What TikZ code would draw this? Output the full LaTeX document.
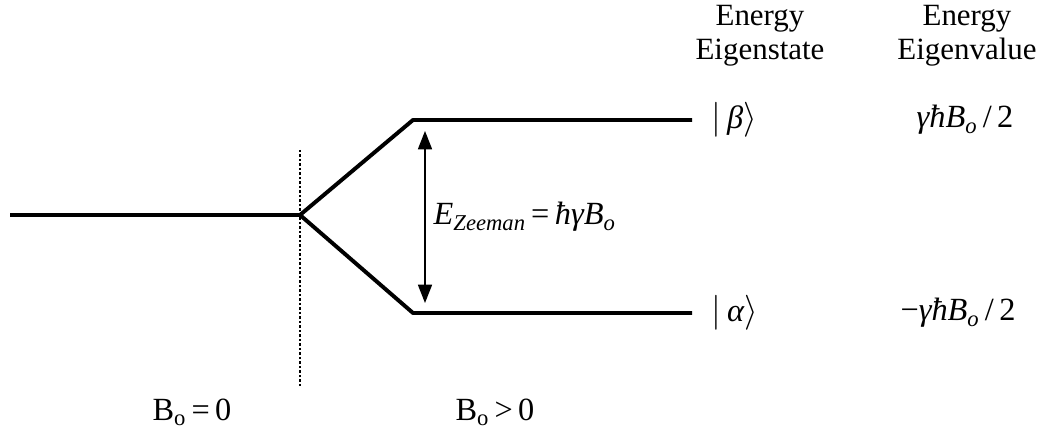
\documentclass[tikz,border=0pt]{standalone}
\usepackage{fontspec}
\setmainfont{Liberation Serif}
\usepackage{tikz}
\usetikzlibrary{arrows.meta,positioning,calc}
\newcommand{\mi}[1]{{\itshape #1}}
\tikzset{
    level/.style={line width=2.8pt, line join=round},
    lbl/.style={font=\fontsize{23}{26}\selectfont, align=center, inner sep=1pt},
    headlbl/.style={font=\fontsize{22}{24}\selectfont, align=center, inner sep=1pt, anchor=north},
    field/.style={dash pattern=on 1.6pt off 1.6pt, line width=1.8pt},
}
\begin{document}
\begin{tikzpicture}[
    x=0.025cm, y=-0.025cm,
    arr/.style={{Triangle[length=13pt,width=10pt]}-{Triangle[length=13pt,width=10pt]}, line width=0.9pt}
]
    \useasboundingbox (0,0) rectangle (1048,438);
    \coordinate (start) at (10,215);
    \coordinate (split) at (300,215);
    \coordinate (bcorner) at (413,120);
    \coordinate (acorner) at (413,313);
    \coordinate (bend) at (692,120);
    \coordinate (aend) at (692,313);
    \coordinate (ftop) at (300,150);
    \coordinate (fbot) at (300,386);
    \coordinate (gtop) at (425,131);
    \coordinate (gbot) at (425,303);
    \draw[field] (ftop) -- (fbot);
    \draw[level] (start) -- (split);
    \draw[level] (split) -- (bcorner) -- (bend);
    \draw[level] (split) -- (acorner) -- (aend);
    \draw[arr] (gtop) -- (gbot);
    \node[lbl, anchor=base west] (gap) at (432,225) {\mi{E}\textsubscript{\mi{Zeeman}}\,=\,\mi{ħγB}\textsubscript{\mi{o}}};
    \node[headlbl] (statehd) at (760,4) {Energy\\Eigenstate};
    \node[headlbl] (valuehd) at (967,4) {Energy\\Eigenvalue};
    \node[lbl, anchor=west] (beta) at (710,120) {$|\,$\mi{β}$\rangle$};
    \node[lbl, anchor=west] (alpha) at (710,313) {$|\,$\mi{α}$\rangle$};
    \node[lbl] (bval) at (965,120) {\mi{γħB}\textsubscript{\mi{o}}\,/\,2};
    \node[lbl] (aval) at (958,313) {−\mi{γħB}\textsubscript{\mi{o}}\,/\,2};
    \node[lbl] (off) at (192,412) {B\textsubscript{o}\,=\,0};
    \node[lbl] (on) at (495,412) {B\textsubscript{o}\,>\,0};
\end{tikzpicture}
\end{document}
